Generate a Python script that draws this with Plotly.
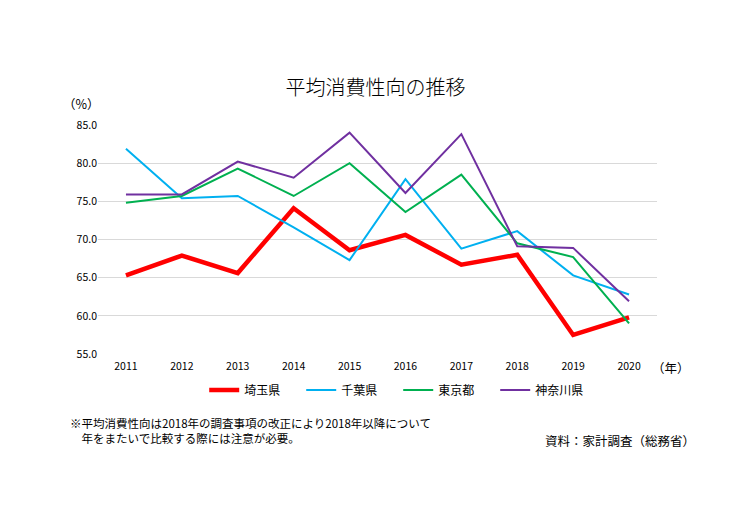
import plotly.graph_objects as go

years = [2011, 2012, 2013, 2014, 2015, 2016, 2017, 2018, 2019, 2020]
saitama = [65.3, 67.9, 65.6, 74.1, 68.6, 70.6, 66.7, 68.0, 57.5, 59.8]
chiba = [81.9, 75.4, 75.7, 71.6, 67.3, 77.9, 68.8, 71.1, 65.3, 62.8]
tokyo = [74.8, 75.7, 79.3, 75.7, 80.0, 73.6, 78.5, 69.5, 67.7, 59.0]
kanagawa = [75.9, 75.9, 80.2, 78.1, 84.0, 76.1, 83.8, 69.1, 68.9, 61.9]
yticks = [55, 60, 65, 70, 75, 80, 85]

FONT = "Noto Sans CJK JP"

fig = go.Figure()
series = [
    ("埼玉県", saitama, "#ff0000", 4.5),
    ("千葉県", chiba, "#00b0f0", 2),
    ("東京都", tokyo, "#00b050", 2),
    ("神奈川県", kanagawa, "#7030a0", 2),
]
for name, vals, color, w in series:
    fig.add_trace(go.Scatter(x=years, y=vals, name=name, mode="lines",
                             line=dict(color=color, width=w)))

# page body has an 8px margin; plot area on screen: x 98..657, y 125..354
fig.update_layout(
    width=756, height=529,
    margin=dict(l=90, r=107, t=117, b=183),
    paper_bgcolor="white", plot_bgcolor="white",
    font=dict(family=FONT, color="#000000", size=11),
    title=dict(text="平均消費性向の推移", x=0.486, xanchor="center", y=0.849, yanchor="middle",
               font=dict(family=FONT, size=20, color="#000000", weight=300)),
    showlegend=True,
    legend=dict(orientation="h", x=0.19, xanchor="left", y=-0.157, yanchor="middle",
                font=dict(family=FONT, size=12), itemwidth=30, tracegroupgap=0,
                entrywidth=52, entrywidthmode="pixels"),
    xaxis=dict(range=[2010.5, 2020.5], tickmode="array", tickvals=years,
               ticktext=[str(y) for y in years], showgrid=False, zeroline=False,
               showline=False, ticks="", ticklabelstandoff=4,
               tickfont=dict(size=10.5, family=FONT)),
    yaxis=dict(range=[55, 85], tickmode="array", tickvals=yticks,
               ticktext=[f"{v:.1f}" for v in yticks], showgrid=True,
               gridcolor="#d9d9d9", gridwidth=1, zeroline=False, showline=False,
               ticks="", tickfont=dict(size=10.5, family=FONT)),
)

fig.add_annotation(text="（%）", xref="paper", yref="paper", x=-0.030, y=1.096,
                   xanchor="center", yanchor="middle", showarrow=False,
                   font=dict(size=12.5, family=FONT))
fig.add_annotation(text="（年）", xref="paper", yref="paper", x=0.988, y=-0.061,
                   xanchor="left", yanchor="middle", showarrow=False,
                   font=dict(size=12.5, family=FONT))
fig.add_annotation(text="※平均消費性向は2018年の調査事項の改正により2018年以降について<br>　年をまたいで比較する際には注意が必要。",
                   xref="paper", yref="paper", x=-0.054, y=-0.332, xanchor="left",
                   yanchor="middle", align="left", showarrow=False,
                   font=dict(size=11.5, family=FONT))
fig.add_annotation(text="資料：家計調査（総務省）", xref="paper", yref="paper",
                   x=1.072, y=-0.376, xanchor="right", yanchor="middle",
                   showarrow=False, font=dict(size=12.5, family=FONT))

fig.write_html("out.html")
